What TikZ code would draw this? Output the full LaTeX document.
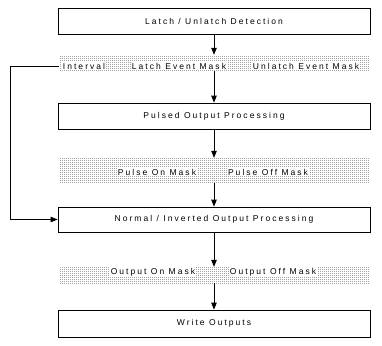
\documentclass[tikz,border=0pt]{standalone}
\usepackage{fontspec}
\setmainfont{Liberation Sans}[LetterSpace=24.0]
\usetikzlibrary{arrows.meta,patterns}
\pgfdeclarepatternformonly{finedots}{\pgfpointorigin}{\pgfpoint{2pt}{2pt}}{\pgfpoint{2pt}{2pt}}{%
  \pgfpathrectangle{\pgfpointorigin}{\pgfpoint{1pt}{1pt}}\pgfusepath{fill}}
\begin{document}
\begin{tikzpicture}[x=1pt,y=-1pt,
  every node/.style={font=\fontsize{8.5}{10}\selectfont},
  box/.style={draw,line width=0.8pt,minimum width=312pt,inner sep=0pt},
  band/.style={pattern=finedots,pattern color=black!85,minimum width=310pt,inner sep=0pt},
  lbl/.style={fill=white,inner sep=0.6pt},
  arr/.style={line width=0.8pt,-{Triangle[width=5.5pt,length=7pt]}}]
\useasboundingbox (0,0) rectangle (382,345);
\node[box,minimum height=26pt] (b1) at (214,21) {Latch / Unlatch Detection};
\node[band,minimum height=16pt] (s1) at (214,63) {};
\node[lbl] (i1) at (84,66) {Interval};
\node[lbl] (i2) at (179,66) {Latch Event Mask};
\node[lbl] (i3) at (306,66) {Unlatch Event Mask};
\node[box,minimum height=26pt] (b2) at (214,116) {Pulsed Output Processing};
\node[band,minimum height=25pt] (s2) at (214,170.5) {};
\node[lbl] (p1) at (157,172) {Pulse On Mask};
\node[lbl] (p2) at (268,172) {Pulse Off Mask};
\node[box,minimum height=25pt] (b3) at (214,219.5) {Normal / Inverted Output Processing};
\node[band,minimum height=16pt] (s3) at (214,275) {};
\node[lbl] (o1) at (153,272) {Output On Mask};
\node[lbl] (o2) at (273,272) {Output Off Mask};
\node[box,minimum height=27pt] (b4) at (214,323.5) {Write Outputs};
\coordinate (lc) at (10,0);
\draw[arr] (b1.south) -- (s1.north);
\draw[arr] (s1.south) -- (b2.north);
\draw[arr] (b2.south) -- (s2.north);
\draw[arr] (s2.south) -- (b3.north);
\draw[arr] (b3.south) -- (s3.north);
\draw[arr] (s3.south) -- (b4.north);
\draw[arr] (s1.west |- i1) -- (lc |- i1) |- (b3.west);
\end{tikzpicture}
\end{document}
